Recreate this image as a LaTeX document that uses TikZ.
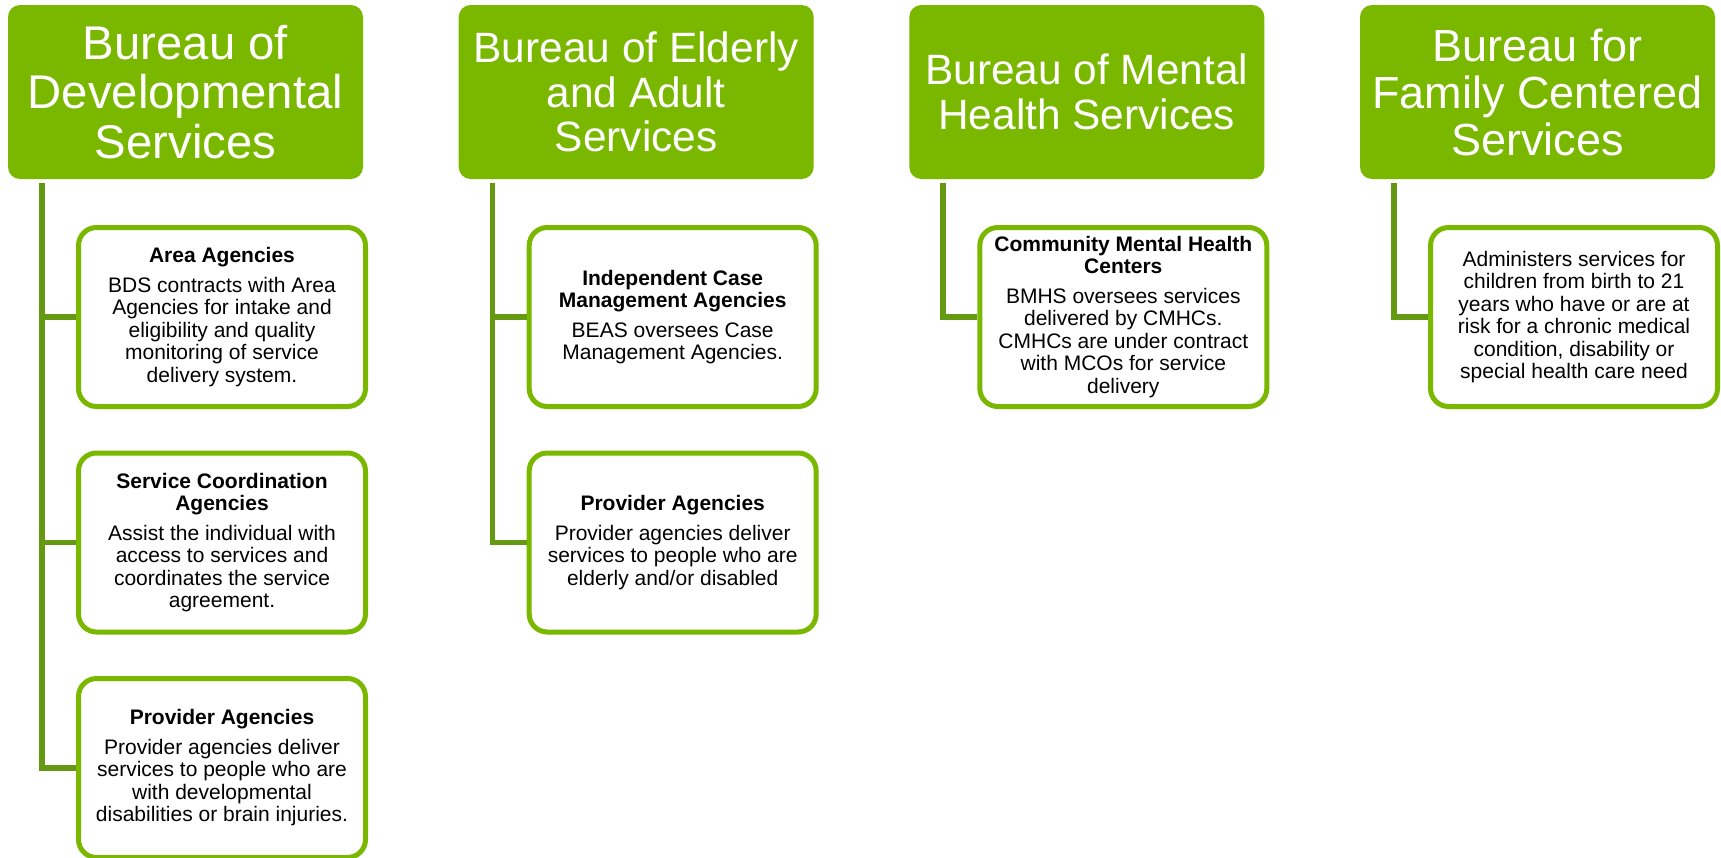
\documentclass[tikz,border=0pt]{standalone}
\usepackage{fontspec}
\setmainfont{Liberation Sans}
\usetikzlibrary{calc}
\definecolor{bgreen}{RGB}{122,184,0}
\definecolor{lgreen}{RGB}{101,153,18}
\begin{document}
\begin{tikzpicture}[x=1pt,y=-1pt,
  bureau/.style={fill=bgreen, rounded corners=12pt, minimum width=355pt, minimum height=174pt,
    inner sep=0pt, text=white, align=center, font=\fontsize{46.5}{49.5}\selectfont},
  agency/.style={draw=bgreen, line width=5pt, fill=white, rounded corners=18pt,
    minimum width=287pt, minimum height=179pt, inner sep=0pt, align=center,
    font=\fontsize{21}{22.5}\selectfont},
  link/.style={draw=lgreen, line width=5.5pt, line join=miter}]
\useasboundingbox (0,0) rectangle (1721,857);

% bureaus
\node[bureau, font=\fontsize{47.3}{49.5}\selectfont] (b1) at (185.5,92) {Bureau of\\Developmental\\Services};
\node[bureau, font=\fontsize{42.4}{44.5}\selectfont] (b2) at (636.2,92) {Bureau of Elderly\\and Adult\\Services};
\node[bureau, font=\fontsize{42.4}{45}\selectfont] (b3) at (1086.8,92) {Bureau of Mental\\Health Services};
\node[bureau, font=\fontsize{45}{47}\selectfont] (b4) at (1537.5,92) {Bureau for\\Family Centered\\Services};

% agencies
\node[agency] (a11) at (222,317) {{\bfseries Area Agencies}\\[7pt]BDS contracts with Area\\Agencies for intake and\\eligibility and quality\\monitoring of service\\delivery system.};
\node[agency] (a12) at (222,542.5) {{\bfseries Service Coordination}\\{\bfseries Agencies}\\[7pt]Assist the individual with\\access to services and\\coordinates the service\\agreement.};
\node[agency] (a13) at (222,768) {{\bfseries Provider Agencies}\\[7pt]Provider agencies deliver\\services to people who are\\with developmental\\disabilities or brain injuries.};

\node[agency] (a21) at (672.7,317) {{\bfseries Independent Case}\\{\bfseries Management Agencies}\\[7pt]BEAS oversees Case\\Management Agencies.};
\node[agency] (a22) at (672.7,542.5) {{\bfseries Provider Agencies}\\[7pt]Provider agencies deliver\\services to people who are\\elderly and/or disabled};

\node[agency] (a31) at (1123.3,317) {{\bfseries Community Mental Health}\\{\bfseries Centers}\\[7pt]BMHS oversees services\\delivered by CMHCs.\\CMHCs are under contract\\with MCOs for service\\delivery};

\node[agency] (a41) at (1574,317) {Administers services for\\children from birth to 21\\years who have or are at\\risk for a chronic medical\\condition, disability or\\special health care need};

% connectors
\coordinate (t1) at ($(b1.south west)+(34,4)$);
\coordinate (t2) at ($(b2.south west)+(34,4)$);
\coordinate (t3) at ($(b3.south west)+(34,4)$);
\coordinate (t4) at ($(b4.south west)+(34,4)$);

\draw[link] (t1) |- (a11.west);
\draw[link] (t1) |- (a12.west);
\draw[link] (t1) |- (a13.west);
\draw[link] (t2) |- (a21.west);
\draw[link] (t2) |- (a22.west);
\draw[link] (t3) |- (a31.west);
\draw[link] (t4) |- (a41.west);
\end{tikzpicture}
\end{document}
